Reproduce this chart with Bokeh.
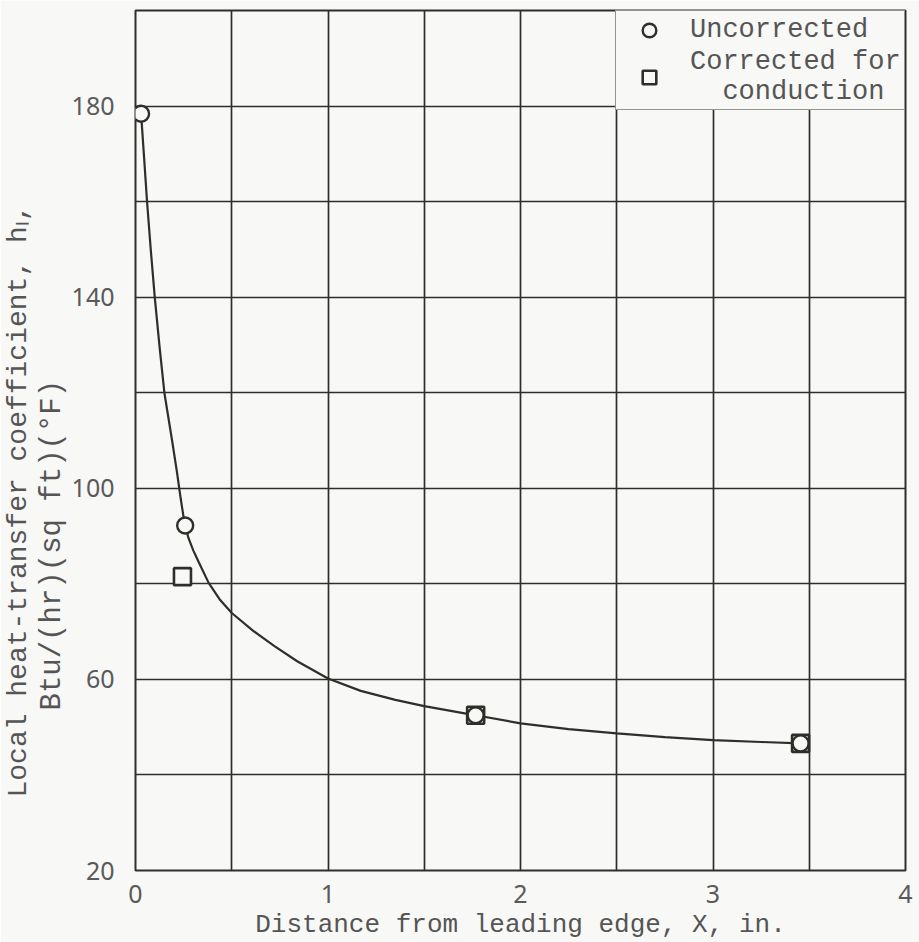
from bokeh.plotting import figure
from bokeh.models import Range1d, FixedTicker, SingleIntervalTicker, Legend, LegendItem, Title
from bokeh.embed import file_html
from bokeh.resources import INLINE

# ---- data ----
x_uncorrected = [0.029, 0.258, 1.767, 3.455]
y_uncorrected = [178.4, 92.2, 52.5, 46.6]

x_corrected = [0.244, 1.767, 3.455]
y_corrected = [81.5, 52.5, 46.6]

x_curve = [0.029, 0.045, 0.060, 0.080, 0.100, 0.125, 0.150, 0.190, 0.215, 0.235,
           0.255, 0.275, 0.300, 0.330, 0.380, 0.440, 0.500, 0.610, 0.720, 0.840,
           1.000, 1.170, 1.350, 1.500, 1.710, 1.767, 2.000, 2.250, 2.500, 2.750,
           3.000, 3.250, 3.455]
y_curve = [178.4, 169.0, 160.0, 149.6, 140.0, 129.6, 120.0, 110.0, 103.5, 97.8,
           92.6, 89.6, 87.0, 84.4, 80.2, 76.6, 73.9, 70.2, 67.0, 63.8,
           60.2, 57.6, 55.7, 54.4, 52.9, 52.5, 50.8, 49.6, 48.7, 47.9,
           47.3, 46.9, 46.6]

x_ticks = [0, 1, 2, 3, 4]
y_ticks = [20, 60, 100, 140, 180]

y_title_1 = "Local heat-transfer coefficient, h\u2097,"
y_title_2 = "Btu/(hr)(sq ft)(\u00b0F)"
x_title = "Distance from leading edge, X, in."
legend_labels = ["Uncorrected", "Corrected for\n  conduction"]

BG = "#f8f8f7"
INK = "#2e2e2a"
TXT = "#555555"
MONO = "Liberation Mono"

p = figure(width=919, height=942, output_backend="svg", toolbar_location=None,
           x_range=Range1d(0, 4), y_range=Range1d(20, 200),
           min_border_left=135, min_border_right=14, min_border_top=10,
           min_border_bottom=71)
p.background_fill_color = BG
p.border_fill_color = BG
p.outline_line_color = INK
p.outline_line_width = 2

# grid
p.xgrid.ticker = SingleIntervalTicker(interval=0.5)
p.ygrid.ticker = SingleIntervalTicker(interval=20)
for g in (p.xgrid, p.ygrid):
    g.grid_line_color = INK
    g.grid_line_width = 1.7
    g.grid_line_alpha = 1.0

# axes
p.xaxis.ticker = FixedTicker(ticks=x_ticks)
p.yaxis.ticker = FixedTicker(ticks=y_ticks)
for ax in (p.xaxis, p.yaxis):
    ax.axis_line_color = None
    ax.major_tick_line_color = None
    ax.minor_tick_line_color = None
    ax.major_label_text_font = "Noto Sans"
    ax.major_label_text_font_size = "25px"
    ax.major_label_text_color = "#5a5a5a"
p.xaxis.major_label_standoff = 8
p.yaxis.major_label_standoff = 15
p.xaxis.axis_label = x_title
p.xaxis.axis_label_text_font = MONO
p.xaxis.axis_label_text_font_size = "26px"
p.xaxis.axis_label_text_font_style = "normal"
p.xaxis.axis_label_text_color = TXT
p.xaxis.axis_label_standoff = 4

# y-axis title, two lines, as side titles
t2 = Title(text=y_title_2, align="left", offset=160, standoff=0,
           text_font=MONO, text_font_size="29px", text_font_style="normal",
           text_color=TXT)
p.add_layout(t2, "left")
t1 = Title(text=y_title_1, align="left", offset=73, standoff=0,
           text_font=MONO, text_font_size="28px", text_font_style="normal",
           text_color=TXT)
p.add_layout(t1, "left")

# faired curve
p.line(x_curve, y_curve, line_color=INK, line_width=2.2)

# data points
r_sq = p.scatter(x_corrected, y_corrected, marker="square", size=17,
                 fill_color=BG, line_color=INK, line_width=2.6)
r_ci = p.scatter(x_uncorrected, y_uncorrected, marker="circle", size=16,
                 fill_color=BG, line_color=INK, line_width=2.4)

legend = Legend(items=[LegendItem(label=legend_labels[0], renderers=[r_ci]),
                       LegendItem(label=legend_labels[1], renderers=[r_sq])],
                location="top_right", margin=0, padding=2, spacing=0,
                glyph_width=62, glyph_height=34, label_standoff=10,
                label_text_font=MONO, label_text_font_size="27px",
                label_text_color=TXT, label_width=212,
                background_fill_color=BG, background_fill_alpha=1.0,
                border_line_color=INK, border_line_width=1.7)
p.add_layout(legend)

open("out.html", "w").write(file_html(p, INLINE))
